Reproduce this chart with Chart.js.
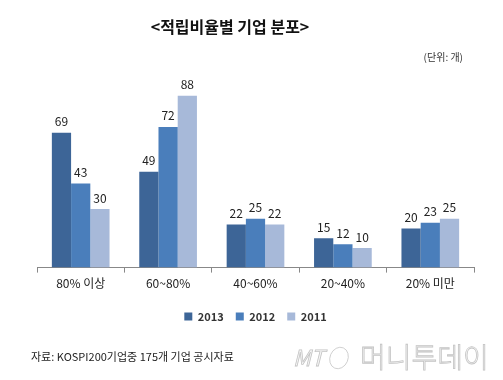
<!DOCTYPE html>
<html>
<head>
<meta charset="utf-8">
<script src="https://cdn.jsdelivr.net/npm/chart.js@4"></script>
<style>
  html, body { margin: 0; padding: 0; background: #fff; }
  #wrap { width: 503px; height: 380px; position: relative; }
</style>
</head>
<body>
<div id="wrap"><canvas id="c" width="503" height="380"></canvas></div>
<script>
const categories = ['80% 이상', '60~80%', '40~60%', '20~40%', '20% 미만'];
const seriesNames = ['2013', '2012', '2011'];
const values2013 = [69, 49, 22, 15, 20];
const values2012 = [43, 72, 25, 12, 23];
const values2011 = [30, 88, 22, 10, 25];
const colors = ['#3D6597', '#4A7EBB', '#A7B9D9'];

const titleText = '<적립비율별 기업 분포>';
const unitText = '(단위: 개)';
const sourceText = '자료: KOSPI200기업중 175개 기업 공시자료';

const FONT = '"Noto Sans CJK KR", "Noto Sans", sans-serif';

const labelPlugin = {
  id: 'barLabels',
  afterDatasetsDraw(chart) {
    const ctx = chart.ctx;
    ctx.save();
    ctx.font = '12px ' + FONT;
    ctx.fillStyle = '#222';
    ctx.textAlign = 'center';
    ctx.textBaseline = 'bottom';
    chart.data.datasets.forEach((ds, i) => {
      const meta = chart.getDatasetMeta(i);
      meta.data.forEach((bar, j) => {
        ctx.fillText(String(ds.data[j]), bar.x, bar.y - 5);
      });
    });
    ctx.restore();
  }
};

const textPlugin = {
  id: 'texts',
  afterDraw(chart) {
    const ctx = chart.ctx;
    ctx.save();
    ctx.fillStyle = '#111';
    ctx.textBaseline = 'middle';
    ctx.textAlign = 'center';
    ctx.font = 'bold 16px ' + FONT;
    ctx.fillText(titleText, 230, 27);
    ctx.font = '10px ' + FONT;
    ctx.textAlign = 'right';
    ctx.fillStyle = '#333';
    ctx.fillText(unitText, 463, 57);
    ctx.textAlign = 'left';
    ctx.font = '11px ' + FONT;
    ctx.fillStyle = '#222';
    ctx.fillText(sourceText, 31, 357);
    // watermark
    ctx.font = 'italic 22px ' + FONT;
    ctx.fillStyle = '#f5f5f5';
    ctx.strokeStyle = '#c4c4c4';
    ctx.lineWidth = 0.8;
    ctx.fillText('MT', 293, 358);
    ctx.strokeText('MT', 293, 358);
    ctx.beginPath();
    ctx.ellipse(339, 358, 9, 11, 0.4, 0, Math.PI * 2);
    ctx.stroke();
    ctx.font = '300 28px ' + FONT;
    ctx.fillText('머니투데이', 360, 357);
    ctx.strokeText('머니투데이', 360, 357);
    ctx.restore();
  }
};

new Chart(document.getElementById('c'), {
  type: 'bar',
  data: {
    labels: categories,
    datasets: [
      { label: seriesNames[0], data: values2013, backgroundColor: colors[0] },
      { label: seriesNames[1], data: values2012, backgroundColor: colors[1] },
      { label: seriesNames[2], data: values2011, backgroundColor: colors[2] }
    ]
  },
  options: {
    responsive: false,
    animation: false,
    devicePixelRatio: 1,
    layout: { padding: { left: 37, right: 29, top: 80, bottom: 48 } },
    datasets: { bar: { categoryPercentage: 0.66, barPercentage: 1.0 } },
    plugins: {
      legend: {
        position: 'bottom',
        labels: {
          boxWidth: 8, boxHeight: 8, padding: 12,
          color: '#333',
          font: { family: FONT, size: 11, weight: 'bold' }
        }
      },
      tooltip: { enabled: false }
    },
    scales: {
      x: {
        afterFit(scale) { scale.height += 4; },
        grid: { display: true, drawOnChartArea: false, drawTicks: true, tickLength: 5, offset: true, color: '#888' },
        border: { display: true, color: '#888' },
        ticks: { color: '#222', font: { family: FONT, size: 12 }, padding: 4 }
      },
      y: { display: false, min: 0, max: 96 }
    }
  },
  plugins: [labelPlugin, textPlugin]
});
</script>
</body>
</html>
